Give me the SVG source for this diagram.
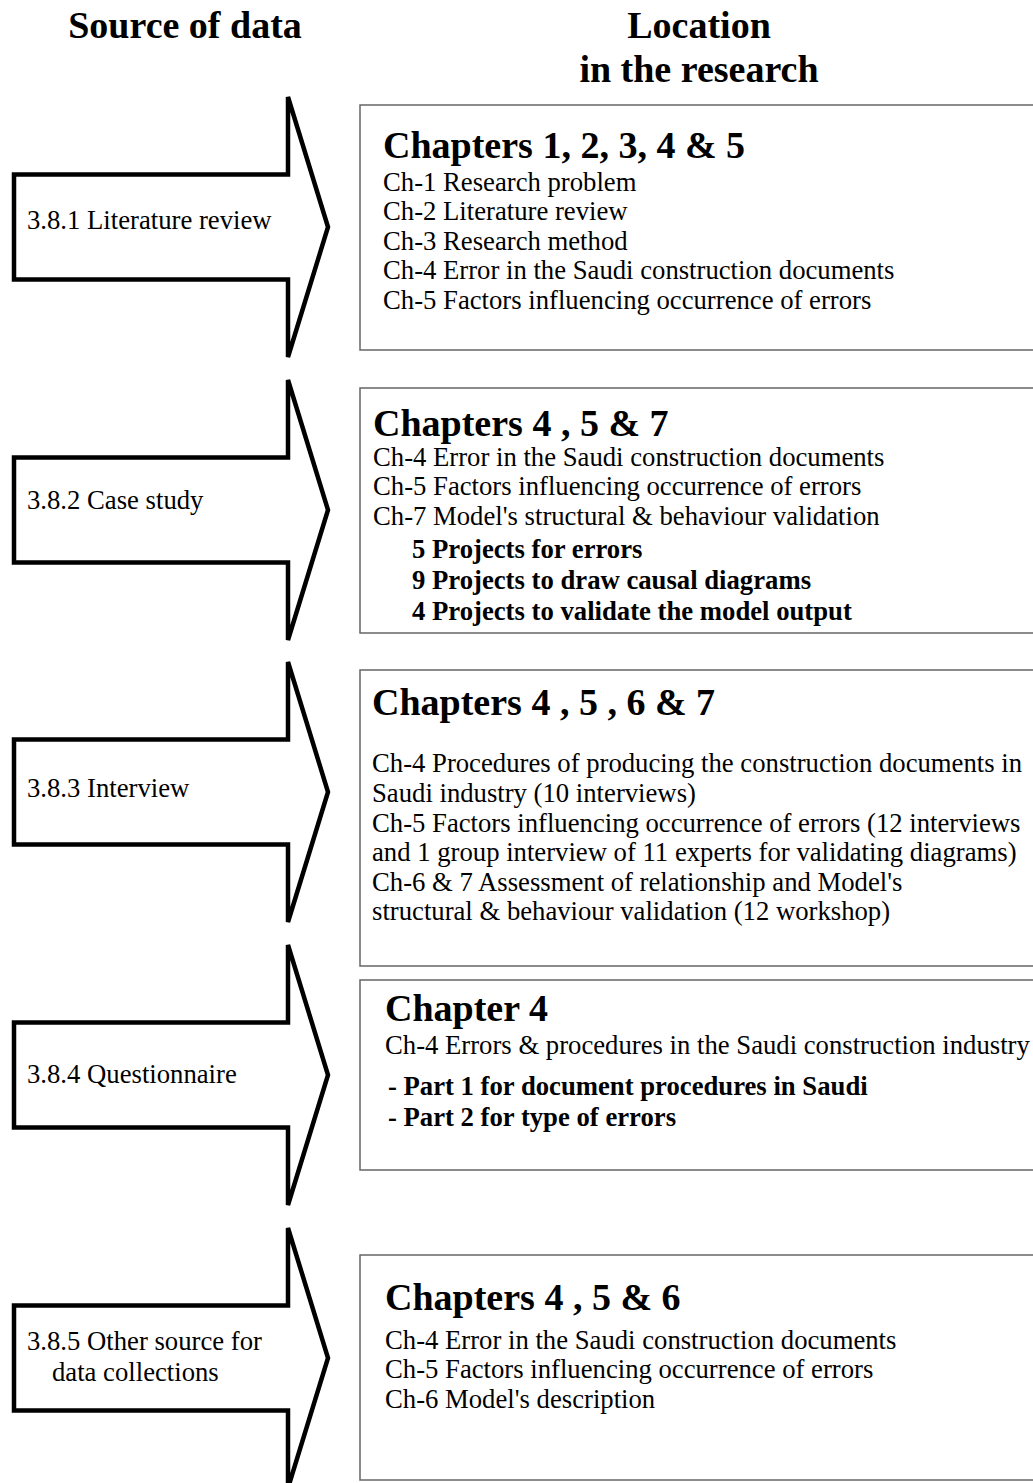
<svg xmlns="http://www.w3.org/2000/svg" width="1033" height="1483" viewBox="0 0 1033 1483">
  <style>
    .hdr { font-family: "Liberation Serif", "Times New Roman", serif; font-weight: bold; font-size: 38px; fill: #000; }
    .title { font-family: "Liberation Serif", "Times New Roman", serif; font-weight: bold; font-size: 38px; fill: #000; }
    .txt { font-family: "Liberation Serif", "Times New Roman", serif; font-size: 26.7px; fill: #000; }
    .bold { font-weight: bold; }
    .box { fill: #fff; stroke: #666; stroke-width: 1.5; }
    .arrow { fill: #fff; stroke: #000; stroke-width: 4.5; stroke-linejoin: miter; }
  </style>
  <defs>
    <!-- block arrow centred on y=0: shaft x 14..288, head to tip at x=328 -->
    <path id="blockArrow" class="arrow" d="M14,-52.5 L288,-52.5 L288,-130 L328,0 L288,130 L288,52.5 L14,52.5 Z"/>
  </defs>
  <rect width="1033" height="1483" fill="#fff"/>

  <!-- column headings -->
  <g id="headings">
    <text class="hdr" x="185" y="38" text-anchor="middle">Source of data</text>
    <text class="hdr" x="699" y="38" text-anchor="middle">Location</text>
    <text class="hdr" x="699" y="82" text-anchor="middle">in the research</text>
  </g>

  <!-- source arrows -->
  <g id="connectors">
    <g id="src-literature">
      <use href="#blockArrow" transform="translate(0,227)"/>
      <text class="txt" x="27" y="229">3.8.1 Literature review</text>
    </g>
    <g id="src-case-study">
      <use href="#blockArrow" transform="translate(0,510)"/>
      <text class="txt" x="27" y="509">3.8.2 Case study</text>
    </g>
    <g id="src-interview">
      <use href="#blockArrow" transform="translate(0,792)"/>
      <text class="txt" x="27" y="797">3.8.3 Interview</text>
    </g>
    <g id="src-questionnaire">
      <use href="#blockArrow" transform="translate(0,1075)"/>
      <text class="txt" x="27" y="1083">3.8.4 Questionnaire</text>
    </g>
    <g id="src-other">
      <use href="#blockArrow" transform="translate(0,1358)"/>
      <text class="txt" x="27" y="1350">3.8.5 Other source for</text>
      <text class="txt" x="52" y="1381">data collections</text>
    </g>
  </g>

  <!-- location boxes -->
  <g id="loc-ch12345">
    <rect class="box" x="360" y="105" width="690" height="245"/>
    <text class="title" x="383" y="158">Chapters 1, 2, 3, 4 &amp; 5</text>
    <text class="txt" x="383" y="191">Ch-1 Research problem</text>
    <text class="txt" x="383" y="220">Ch-2 Literature review</text>
    <text class="txt" x="383" y="250">Ch-3 Research method</text>
    <text class="txt" x="383" y="279">Ch-4 Error in the Saudi construction documents</text>
    <text class="txt" x="383" y="309">Ch-5 Factors influencing occurrence of errors</text>
  </g>

  <g id="loc-ch457">
    <rect class="box" x="360" y="388" width="690" height="245"/>
    <text class="title" x="373" y="436">Chapters 4 , 5 &amp; 7</text>
    <text class="txt" x="373" y="466">Ch-4 Error in the Saudi construction documents</text>
    <text class="txt" x="373" y="495">Ch-5 Factors influencing occurrence of errors</text>
    <text class="txt" x="373" y="525">Ch-7 Model's structural &amp; behaviour validation</text>
    <text class="txt bold" x="412" y="558">5 Projects for errors</text>
    <text class="txt bold" x="412" y="589">9 Projects to draw causal diagrams</text>
    <text class="txt bold" x="412" y="620">4 Projects to validate the model output</text>
  </g>

  <g id="loc-ch4567">
    <rect class="box" x="360" y="670" width="690" height="296"/>
    <text class="title" x="372" y="715">Chapters 4 , 5 , 6 &amp; 7</text>
    <text class="txt" x="372" y="772">Ch-4 Procedures of producing the construction documents in</text>
    <text class="txt" x="372" y="802">Saudi industry (10 interviews)</text>
    <text class="txt" x="372" y="832">Ch-5 Factors influencing occurrence of errors (12 interviews</text>
    <text class="txt" x="372" y="861">and 1 group interview of 11 experts for validating diagrams)</text>
    <text class="txt" x="372" y="891">Ch-6 &amp; 7 Assessment of relationship and Model's</text>
    <text class="txt" x="372" y="920">structural &amp; behaviour validation (12 workshop)</text>
  </g>

  <g id="loc-ch4">
    <rect class="box" x="360" y="980" width="690" height="190"/>
    <text class="title" x="385" y="1021">Chapter 4</text>
    <text class="txt" x="385" y="1054">Ch-4 Errors &amp; procedures in the Saudi construction industry</text>
    <text class="txt bold" x="388" y="1095">- Part 1 for document procedures in Saudi</text>
    <text class="txt bold" x="388" y="1126">- Part 2 for type of errors</text>
  </g>

  <g id="loc-ch456">
    <rect class="box" x="360" y="1255" width="690" height="225"/>
    <text class="title" x="385" y="1310">Chapters 4 , 5 &amp; 6</text>
    <text class="txt" x="385" y="1349">Ch-4 Error in the Saudi construction documents</text>
    <text class="txt" x="385" y="1378">Ch-5 Factors influencing occurrence of errors</text>
    <text class="txt" x="385" y="1408">Ch-6 Model's description</text>
  </g>
</svg>
